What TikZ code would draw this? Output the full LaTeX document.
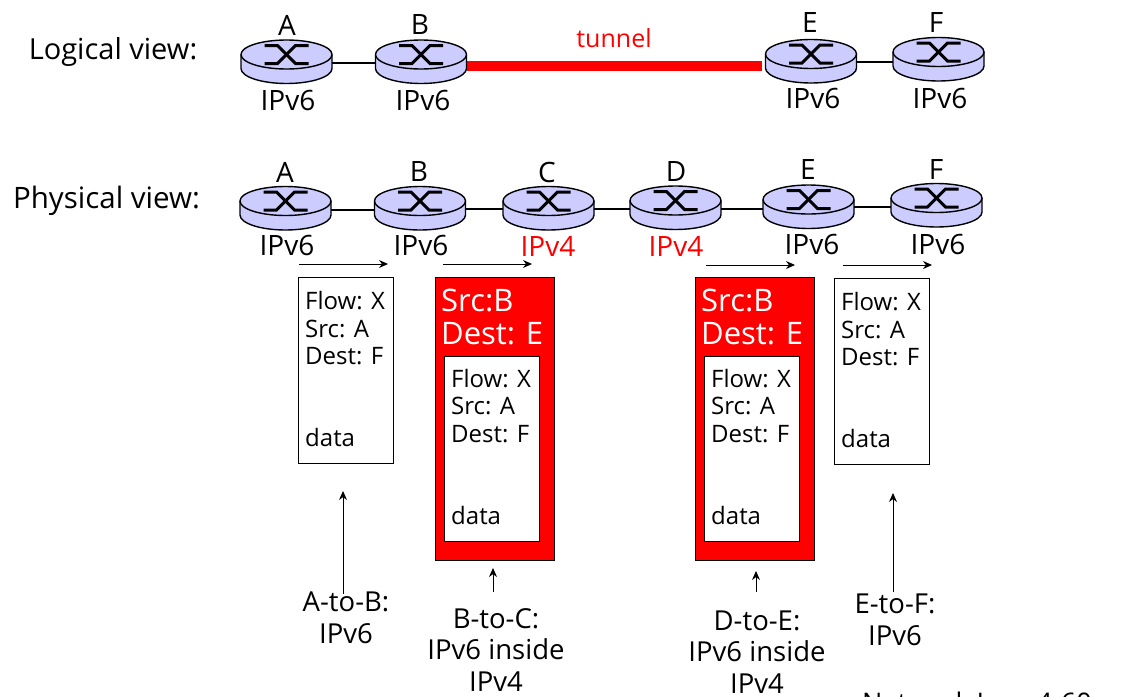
\documentclass[tikz,border=0pt]{standalone}
\usepackage{fontspec}
\usetikzlibrary{shapes.geometric,arrows.meta}
\setmainfont{Open Sans}
\definecolor{routerfill}{RGB}{204,204,255}
\newcommand{\routerat}[3]{%
  \fill[routerfill] (#2-45.5,#3) -- (#2-45.5,#3+14) arc[start angle=180,end angle=0,x radius=45.5,y radius=15] -- (#2+45.5,#3) -- cycle;
  \draw[routerline] (#2-45.5,#3) -- (#2-45.5,#3+14) arc[start angle=180,end angle=0,x radius=45.5,y radius=15] -- (#2+45.5,#3);
  \node[routertop] (#1) at (#2,#3) {};
  \draw[routercross] (#2-22,#3-9) -- (#2-9,#3-9) -- (#2+9,#3+9) -- (#2+22,#3+9);
  \draw[routercross] (#2-22,#3+9) -- (#2-9,#3+9) -- (#2+9,#3-9) -- (#2+22,#3-9);
}
\begin{document}
\begin{tikzpicture}[x=1pt,y=-1pt,
  routerline/.style={draw=black,line width=1.4pt},
  routertop/.style={ellipse,draw=black,line width=1.4pt,fill=routerfill,minimum width=91pt,minimum height=29pt,inner sep=0pt,outer sep=0pt},
  routercross/.style={draw=black,line width=3pt},
  link/.style={draw=black,line width=1.2pt},
  flow/.style={draw=black,line width=1pt,-{Stealth[length=9pt,width=8pt]}},
  lab/.style={inner sep=0pt,font=\fontsize{28}{31.5}\selectfont,align=center},
  captext/.style={inner sep=0pt,font=\fontsize{27.5}{31.5}\selectfont,align=center},
  small/.style={inner sep=0pt,font=\fontsize{24}{28}\selectfont,align=left,anchor=west},
  big/.style={inner sep=0pt,font=\fontsize{31}{34}\selectfont,align=left,anchor=west,text=white},
  wbox/.style={draw=black,fill=white,line width=1pt,inner sep=0pt},
  rbox/.style={draw=black,fill=red,line width=1pt,inner sep=0pt}]
\clip (0,0) rectangle (1134,696);
\useasboundingbox (0,0) rectangle (1134,696);
\fill[white] (0,0) rectangle (1134,696);
% logical
\draw[draw=red,line width=10pt] (467,66) coordinate (rs) -- (762,66) coordinate (re);
\routerat{la}{286.5}{54.5}\routerat{lb}{421}{54.5}\routerat{le}{811}{54}\routerat{lf}{938.5}{52}
\draw[link] ([yshift=-8.5pt]la.east) -- ([yshift=-8.5pt]lb.west);
\draw[link] ([yshift=-8pt]le.east) -- ([yshift=-10pt]lf.west);
% physical
\routerat{pa}{285.5}{201}\routerat{pb}{420}{201}\routerat{pc}{548.5}{201}\routerat{pd}{675.5}{200.5}\routerat{pe}{808.5}{199.5}\routerat{pf}{936.5}{198}
\draw[link] ([yshift=-9pt]pa.east) -- ([yshift=-9pt]pb.west);
\draw[link] ([yshift=-8pt]pb.east) -- ([yshift=-8pt]pc.west);
\draw[link] ([yshift=-8pt]pc.east) -- ([yshift=-8.5pt]pd.west);
\draw[link] ([yshift=-8.5pt]pd.east) -- ([yshift=-9.5pt]pe.west);
\draw[link] ([yshift=-7.5pt]pe.east) -- ([yshift=-9pt]pf.west);
% labels
\node[inner sep=0pt,font=\fontsize{29}{31}\selectfont] (t1) at (113,52) {Logical view:};
\node[inner sep=0pt,font=\fontsize{29.5}{31}\selectfont] (t2) at (106.5,201) {Physical view:};
\node[inner sep=0pt,font=\fontsize{25}{31}\selectfont,text=red] (t3) at (614,38) {tunnel};
\foreach \n/\t/\x/\y in {a/A/287/25,b/B/420/25,c/E/810/23,d/F/936/23,e/A/285/172,f/B/419/172,g/C/547/172,h/D/676/172,i/E/808/170,j/F/936/170}
  \node[lab] (n\n) at (\x,\y) {\t};
\foreach \n/\x/\y in {a/288/100,b/423/100,c/813/98,d/940/98,e/287/245,f/421/245,g/812/244,h/938/244}
  \node[lab] (v\n) at (\x,\y) {IPv6};
\node[lab,text=red] (vi) at (548,246) {IPv4};
\node[lab,text=red] (vj) at (676,246) {IPv4};
% arrows
\coordinate (a1s) at (299,264);\coordinate (a1e) at (388,264);
\coordinate (a2s) at (443,264);\coordinate (a2e) at (532,264);
\coordinate (a3s) at (706,265);\coordinate (a3e) at (795,265);
\coordinate (a4s) at (843,265);\coordinate (a4e) at (932,265);
\draw[flow] (a1s) -- (a1e);\draw[flow] (a2s) -- (a2e);\draw[flow] (a3s) -- (a3e);\draw[flow] (a4s) -- (a4e);
% boxes
\node[wbox,minimum width=95pt,minimum height=186pt] (b1) at (346,370.5) {};
\node[small] at (305,301) {Flow: X};
\node[small] at (305,329) {Src: A};
\node[small] at (305,356) {Dest: F};
\node[small] at (305,437) {data};
\node[wbox,minimum width=95pt,minimum height=186pt] (b4) at (882,371.5) {};
\node[small] at (841,302) {Flow: X};
\node[small] at (841,330) {Src: A};
\node[small] at (841,357) {Dest: F};
\node[small] at (841,438) {data};
\node[rbox,minimum width=119pt,minimum height=283pt] (b2) at (495,419) {};
\node[big] at (441,300) {Src:B};
\node[big] at (441,334) {Dest: E};
\node[wbox,minimum width=95pt,minimum height=185pt] (c2) at (492,448.5) {};
\node[small] at (451,379) {Flow: X};
\node[small] at (451,406) {Src: A};
\node[small] at (451,434) {Dest: F};
\node[small] at (451,515) {data};
\node[rbox,minimum width=119pt,minimum height=283pt] (b3) at (755,419) {};
\node[big] at (701,300) {Src:B};
\node[big] at (701,334) {Dest: E};
\node[wbox,minimum width=95pt,minimum height=185pt] (c3) at (752,448.5) {};
\node[small] at (711,379) {Flow: X};
\node[small] at (711,406) {Src: A};
\node[small] at (711,434) {Dest: F};
\node[small] at (711,515) {data};
% captions
\node[captext] (k1) at (346,618) {A-to-B:\\IPv6};
\node[captext] (k2) at (496,650) {B-to-C:\\IPv6 inside\\IPv4};
\node[captext] (k3) at (757,652) {D-to-E:\\IPv6 inside\\IPv4};
\node[captext] (k4) at (895,620) {E-to-F:\\IPv6};
\coordinate (u1) at (343,594);\coordinate (u2) at (493,592);\coordinate (u3) at (756,592);\coordinate (u4) at (893,592);
\draw[flow] (u1) -- (343,491);
\draw[flow] (u2) -- (493,568);
\draw[flow] (u3) -- (756,571);
\draw[flow] (u4) -- (893,493);
\node[inner sep=0pt,anchor=base west,font=\fontsize{27}{31}\selectfont] (foot) at (862,712) {Network Layer};
\node[inner sep=0pt,anchor=base east,font=\fontsize{27}{31}\selectfont] (foot2) at (1092,712) {4-60};
\end{tikzpicture}
\end{document}
